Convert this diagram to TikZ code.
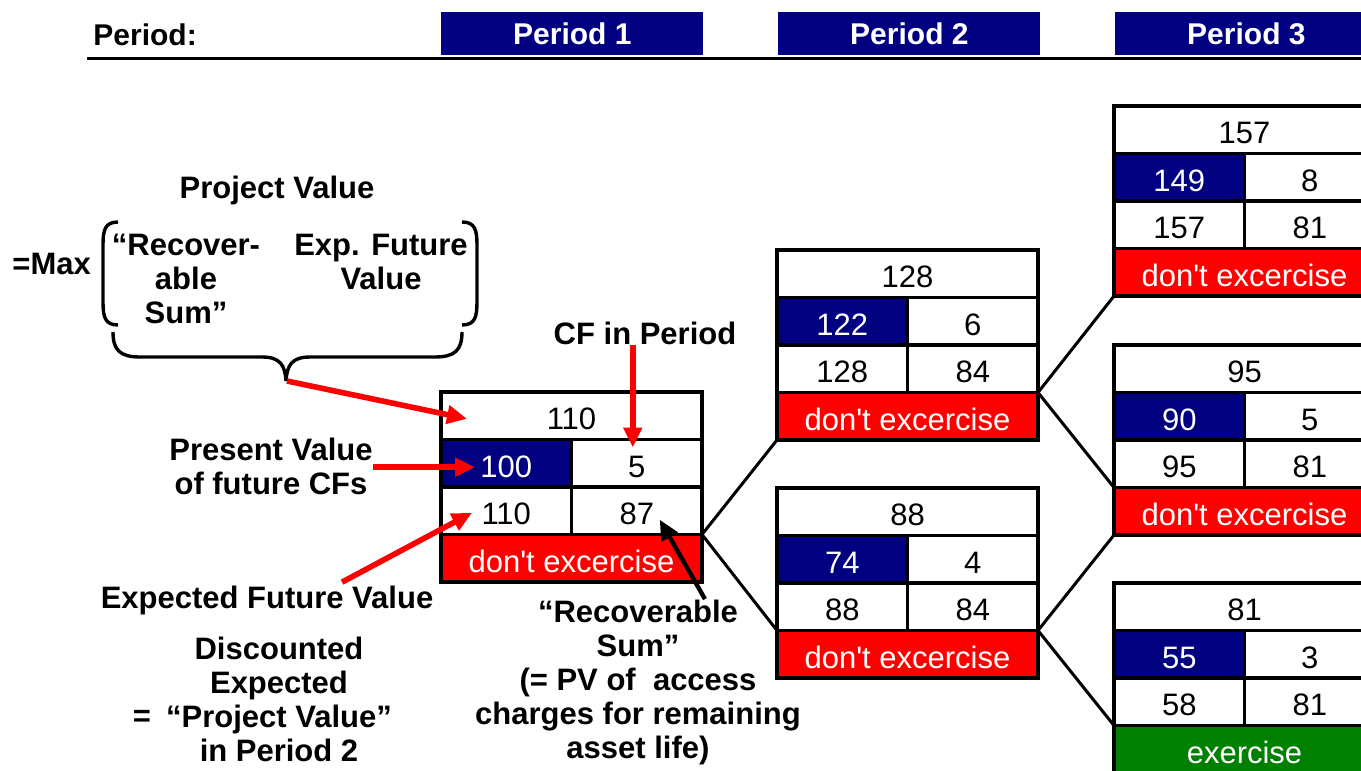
\documentclass[tikz,border=0pt]{standalone}
\usepackage{fontspec}
\setmainfont{Liberation Sans}
\usetikzlibrary{arrows.meta,calc}

\definecolor{navyblue}{RGB}{0,0,128}
\definecolor{exred}{RGB}{255,0,0}
\definecolor{exgreen}{RGB}{0,128,0}

\tikzset{
  cell/.style={draw, line width=1.7pt, inner sep=0pt, outer sep=0pt,
    minimum height=23.75pt, text height=14pt, text depth=0pt,
    font=\fontsize{15.5}{18}\selectfont, anchor=north west},
  wide/.style={cell, minimum width=130.5pt},
  half/.style={cell, minimum width=65.25pt},
  pvcell/.style={half, fill=navyblue, text=white},
  keep/.style={wide, fill=exred, text=white},
  exer/.style={wide, fill=exgreen, text=white},
  note/.style={font=\bfseries\fontsize{15.5}{17}\selectfont, align=center, inner sep=0pt},
  periodbox/.style={fill=navyblue, text=white, font=\bfseries\fontsize{15}{18}\selectfont,
    minimum width=131pt, minimum height=21.5pt, inner sep=0pt, anchor=north west},
  link/.style={line width=1.5pt},
  redarrow/.style={exred, line width=2.8pt, -{Triangle[length=10pt,width=9pt]}},
  blackarrow/.style={line width=2.2pt, -{Triangle[length=10pt,width=9pt]}},
}

% one node of the tree: name, position, value, PV, CF, EFV, RS, decision, style
\newcommand{\optbox}[9]{%
  \node[wide] (#1-top) at #2 {#3};
  \node[pvcell] (#1-pv) at (#1-top.south west) {#4};
  \node[half] (#1-cf) at (#1-pv.north east) {#5};
  \node[half] (#1-efv) at (#1-pv.south west) {#6};
  \node[half] (#1-rs) at (#1-efv.north east) {#7};
  \node[#9] (#1-dec) at (#1-efv.south west) {#8};
}
\newcommand{\noex}{don\textquotesingle t excercise}

\begin{document}
\begin{tikzpicture}[x=0.5pt,y=-0.5pt]
  \path[use as bounding box] (0,0) rectangle (1361,771);
  \clip (0,0) rectangle (1361,771);

  % header
  \node[font=\bfseries\fontsize{15}{18}\selectfont, anchor=base west, inner sep=0pt] (hdr) at (93,46) {Period:};
  \node[periodbox] (per1) at (441,12) {Period 1};
  \node[periodbox] (per2) at (778,12) {Period 2};
  \node[periodbox] (per3) at (1115,12) {Period 3};
  \draw[line width=1.5pt] (87,58) -- (1361,58);

  % tree
  \optbox{p1}{(441,392)}{110}{100}{5}{110}{87}{\noex}{keep}
  \optbox{p2u}{(777,250)}{128}{122}{6}{128}{84}{\noex}{keep}
  \optbox{p2l}{(777,488)}{88}{74}{4}{88}{84}{\noex}{keep}
  \optbox{p3a}{(1114,106)}{157}{149}{8}{157}{81}{\noex}{keep}
  \optbox{p3b}{(1114,345)}{95}{90}{5}{95}{81}{\noex}{keep}
  \optbox{p3c}{(1114,583)}{81}{55}{3}{58}{81}{exercise}{exer}

  \draw[link] (p1-rs.south east) -- (p2u-dec.south west);
  \draw[link] (p1-rs.south east) -- (p2l-efv.south west);
  \draw[link] (p2u-rs.south east) -- (p3a-dec.south west);
  \draw[link] (p2u-rs.south east) -- (p3b-efv.south west);
  \draw[link] (p2l-rs.south east) -- (p3b-dec.south west);
  \draw[link] (p2l-rs.south east) -- (p3c-efv.south west);

  % explanation
  \node[note] (pvalue) at (277,190) {Project Value};
  \node[note, anchor=west] (maxlabel) at (12,264) {=Max};
  \node[note] (rsterm) at (186,279) {“Recover-\\able\\Sum”};
  \node[note] (efterm) at (381,262) {Exp. Future\\Value};
  \draw[line width=1.7pt] (118,222) .. controls (105,222) and (103,230) .. (103,245)
    -- (103,302) .. controls (103,317) and (105,325) .. (118,325);
  \draw[line width=1.7pt] (462,222) .. controls (475,222) and (477,230) .. (477,245)
    -- (477,302) .. controls (477,317) and (475,325) .. (462,325);
  \draw[line width=1.7pt] (113,332) .. controls (113,350) and (120,357) .. (140,357)
    -- (262,357) .. controls (280,357) and (285,365) .. (286,381)
    .. controls (287,365) and (292,357) .. (310,357)
    -- (435,357) .. controls (455,357) and (462,350) .. (462,332);
  \coordinate (bracetip) at (287,381);

  \node[note] (cfhead) at (645,333) {CF in Period};
  \node[note] (pvlabel) at (271,466) {Present Value\\of future CFs};
  \node[note] (efvlabel) at (267,600) {Expected Future Value};
  \node[note] (disclabel) at (279,699) {Discounted\\Expected\\“Project Value”\\in Period 2};
  \node[note] (eqsign) at (142,718) {=};
  \node[note] (rslabel) at (638,682) {“Recoverable\\Sum”\\(= PV of \ access\\charges for remaining\\asset life)};

  \coordinate (toptip) at ($(p1-top.west)+(26,3)$);
  \coordinate (cftip) at ($(p1-cf.north)+(-4,8)$);
  \coordinate (pvtip) at ($(p1-pv.west)+(34,4)$);
  \coordinate (efvtip) at ($(p1-efv.west)+(31,2)$);
  \coordinate (rstip) at ($(p1-rs.center)+(23,9)$);

  \draw[redarrow] (bracetip) -- (toptip);
  \draw[redarrow] (cfhead.south -| cftip) -- (cftip);
  \draw[redarrow] (pvlabel.east |- pvtip) -- (pvtip);
  \draw[redarrow] ($(efvlabel.north)+(75,-3)$) -- (efvtip);
  \draw[blackarrow] ($(rslabel.north)+(67,0)$) -- (rstip);
\end{tikzpicture}
\end{document}
